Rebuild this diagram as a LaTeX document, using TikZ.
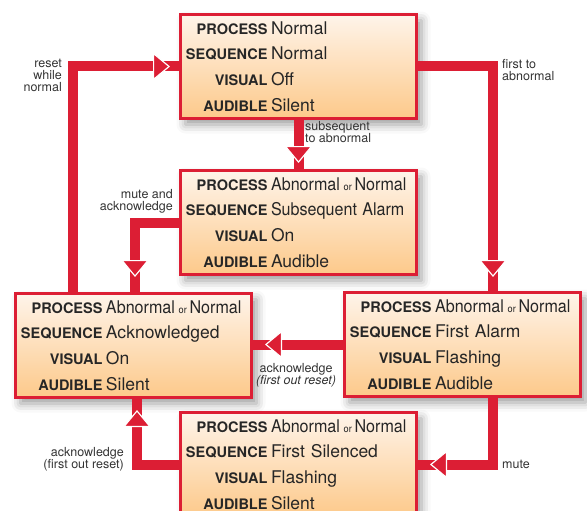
\documentclass[tikz,border=0pt]{standalone}
\usepackage{fontspec}
\usepackage{graphicx}
\setmainfont{TeX Gyre Heros}
\usetikzlibrary{arrows.meta}
\usetikzlibrary{decorations.markings}
\usetikzlibrary{shadows.blur}

\definecolor{alarmred}{HTML}{DC1E34}
\definecolor{boxtop}{HTML}{FEF4EA}
\definecolor{boxbot}{HTML}{FDC98A}
\definecolor{notegray}{HTML}{333333}

\newcommand{\statekey}[1]{\makebox[87pt][r]{\fontsize{14.5pt}{25.6pt}\selectfont\bfseries #1}\hspace{3.5pt}}
\newcommand{\narrow}[1]{\scalebox{0.92}[1]{#1}}
\newcommand{\abnormalrow}{\narrow{Abnormal\hspace{4pt}{\fontsize{10pt}{10pt}\selectfont or}\hspace{3pt}Normal}}
\newcommand{\staterows}[4]{\statekey{PROCESS}\mbox{#1}\\\statekey{SEQUENCE}\mbox{#2}\\\statekey{VISUAL}\mbox{#3}\\\statekey{AUDIBLE}\mbox{#4}}

\begin{document}
\begin{tikzpicture}[x=1pt, y=-1pt]
		\tikzset{state/.style = {draw=alarmred, line width=3pt, top color=boxtop,
				bottom color=boxbot, minimum width=236pt, minimum height=104pt,
				text width=236pt, inner sep=0pt, align=left, anchor=north west,
				text=black!85, font=\fontsize{17.5pt}{25.6pt}\selectfont,
				blur shadow={shadow xshift=5pt, shadow yshift=-6pt,
					shadow blur radius=9pt, shadow opacity=40}}}
		\tikzset{bigtip/.tip = {Triangle[length=17pt, width=28pt, fill=alarmred,
				color=white, line width=1.2pt]}}
		\tikzset{flow/.style = {draw=alarmred, line width=10pt}}
		\tikzset{headgap/.style = {postaction={decorate, decoration={markings,
				mark=at position -#1 with {\arrow{bigtip}}}}}}
		\tikzset{note/.style = {font=\fontsize{12.5pt}{12pt}\selectfont,
				text=notegray, inner sep=0pt}}

		\useasboundingbox (0,0) rectangle (587,511);

		% states
		\node[state] (normal) at (179,13) {\staterows{Normal}{Normal}{Off}{Silent}};
		\node[state] (subs) at (179,169) {\staterows{\abnormalrow}{\narrow{Subsequent Alarm}}{On}{Audible}};
		\node[state] (ack) at (14,292) {\staterows{\abnormalrow}{Acknowledged}{On}{Silent}};
		\node[state] (first) at (343,291) {\staterows{\abnormalrow}{First Alarm}{Flashing}{Audible}};
		\node[state] (silenced) at (179,411) {\staterows{\abnormalrow}{First Silenced}{Flashing}{Silent}};

		% transitions
		\draw[flow, headgap=9pt] ([xshift=59pt]ack.north west) |- (normal.west);
		\draw[flow, headgap=14pt] (normal.east) -| ([xshift=150pt]first.north west);
		\draw[flow, headgap=6pt] (normal.south) -- (subs.north);
		\draw[flow, headgap=15pt] (subs.west) -| ([xshift=121pt]ack.north west);
		\draw[flow, headgap=12pt] (first.west) -- (first.west -| ack.east);
		\draw[flow, headgap=11pt] (silenced.west) -| ([xshift=123pt]ack.south west);
		\draw[flow, headgap=12pt] ([xshift=150pt]first.south west) |- (silenced.east);

		% labels
		\node[note, anchor=north east, align=right] (resetnote) at (62,59) {reset\\while\\normal};
		\node[note, anchor=north west, align=left] (firstnote) at (502,59) {first to\\abnormal};
		\node[note, anchor=north west, align=left] (subsnote) at (305,121) {subsequent\\to abnormal};
		\node[note, anchor=north east, align=right] (mutenote) at (173,189) {mute and\\acknowledge};
		\node[note, anchor=north, align=center] (acknote) at (296,363) {acknowledge\\\textit{(first out reset)}};
		\node[note, anchor=north east, align=right] (silnote) at (124,447) {acknowledge\\(first out reset)};
		\node[note, anchor=west] (mutelbl) at (502,464) {mute};

\end{tikzpicture}
\end{document}
